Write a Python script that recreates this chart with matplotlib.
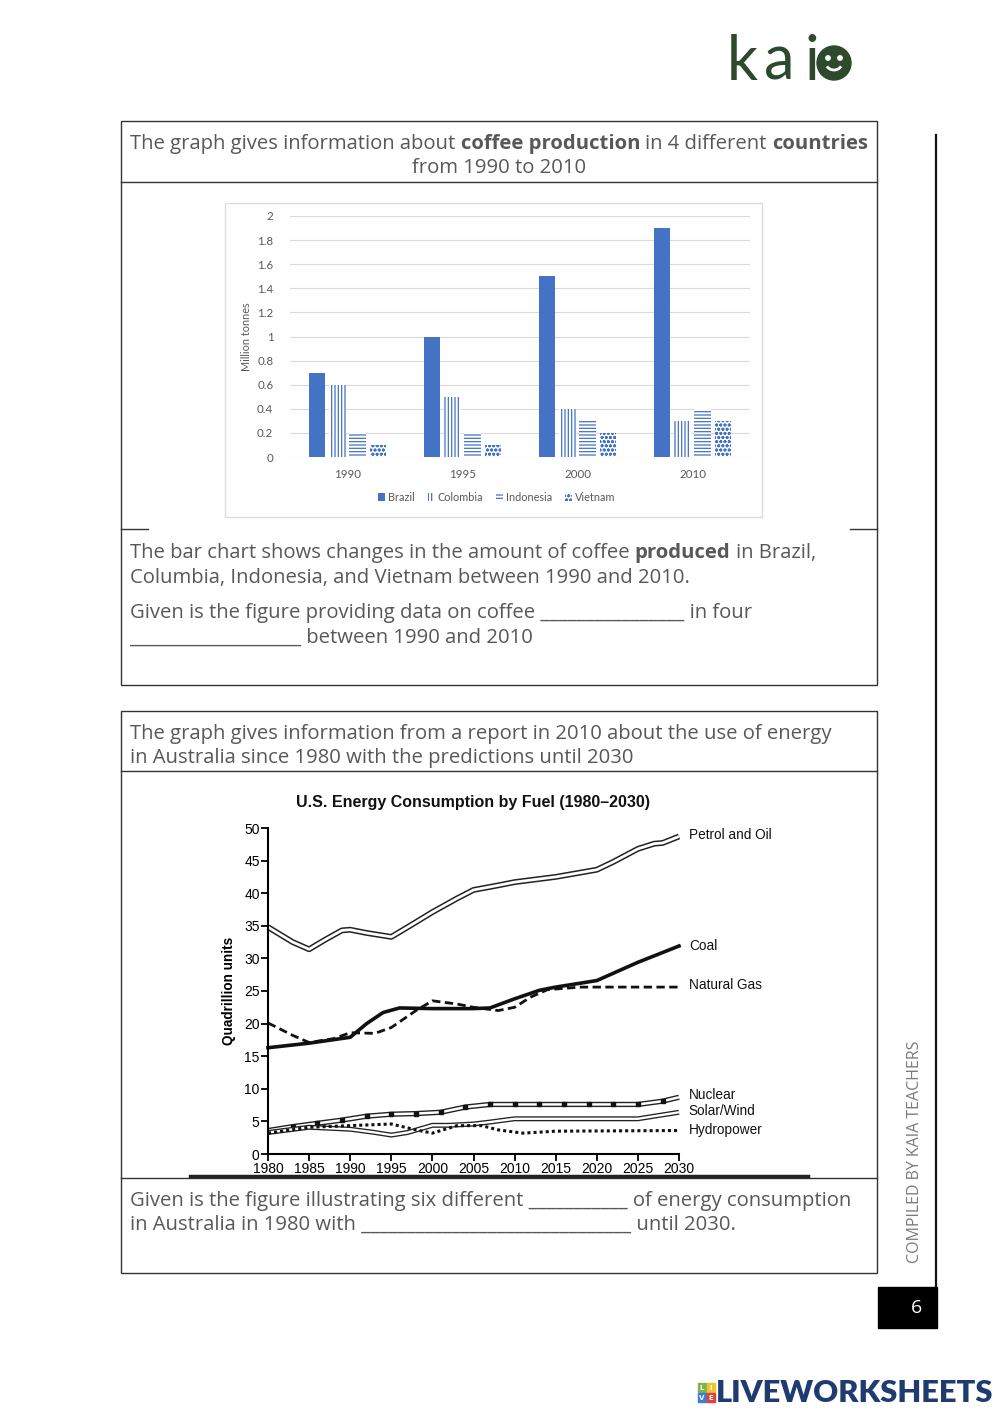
import matplotlib
matplotlib.use('Agg')
import matplotlib.pyplot as plt
from matplotlib.patches import Rectangle, Circle, Arc, Patch
import numpy as np

# ---- data: coffee bar chart
bar_years = ['1990', '1995', '2000', '2010']
brazil = [0.7, 1.0, 1.5, 1.9]
colombia = [0.6, 0.5, 0.4, 0.3]
indonesia = [0.2, 0.2, 0.3, 0.4]
vietnam = [0.1, 0.1, 0.2, 0.3]
bar_ticks = [0, 0.2, 0.4, 0.6, 0.8, 1, 1.2, 1.4, 1.6, 1.8, 2]
bar_ticklabels = ['0', '0.2', '0.4', '0.6', '0.8', '1', '1.2', '1.4', '1.6', '1.8', '2']

# ---- data: energy line chart
petrol_x = [1980, 1983, 1985, 1987, 1989, 1990, 1992, 1995, 1997, 2000, 2003, 2005, 2008, 2010, 2015, 2020, 2022, 2025, 2027, 2028, 2030]
petrol_y = [34.8, 32.5, 31.4, 32.9, 34.3, 34.4, 33.9, 33.3, 34.8, 37.1, 39.2, 40.5, 41.2, 41.7, 42.5, 43.6, 44.8, 46.8, 47.6, 47.7, 48.7]
coal_x = [1980, 1985, 1990, 1992, 1994, 1996, 2000, 2005, 2007, 2010, 2013, 2015, 2020, 2025, 2030]
coal_y = [16.3, 17.0, 17.9, 20.0, 21.7, 22.4, 22.3, 22.3, 22.4, 23.8, 25.1, 25.6, 26.6, 29.4, 31.9]
gas_x = [1980, 1983, 1985, 1988, 1990, 1993, 1995, 1998, 2000, 2003, 2005, 2008, 2010, 2012, 2014, 2018, 2030]
gas_y = [20.1, 18.2, 17.1, 17.7, 18.6, 18.5, 19.4, 22.0, 23.5, 23.0, 22.5, 22.0, 22.5, 24.1, 25.2, 25.6, 25.6]
nuclear_x = [1980, 1983, 1986, 1989, 1992, 1995, 1998, 2001, 2004, 2007, 2010, 2013, 2016, 2019, 2022, 2025, 2028, 2030]
nuclear_y = [3.6, 4.2, 4.7, 5.2, 5.8, 6.1, 6.2, 6.4, 7.2, 7.6, 7.6, 7.6, 7.6, 7.6, 7.6, 7.6, 8.1, 8.7]
solar_x = [1980, 1985, 1990, 1993, 1995, 1997, 2000, 2002, 2005, 2007, 2010, 2025, 2030]
solar_y = [3.3, 4.1, 3.8, 3.3, 2.9, 3.3, 4.4, 4.4, 4.6, 4.9, 5.4, 5.4, 6.4]
hydro_x = [1980, 1985, 1990, 1995, 1998, 2000, 2003, 2006, 2008, 2011, 2015, 2030]
hydro_y = [3.2, 4.1, 4.35, 4.6, 3.7, 3.2, 4.35, 4.35, 3.7, 3.2, 3.5, 3.6]
line_labels = ['Petrol and Oil', 'Coal', 'Natural Gas', 'Nuclear', 'Solar/Wind', 'Hydropower']
label_y = [48.9, 31.9, 25.9, 9.0, 6.6, 3.7]

W, H = 1000, 1413
GRAY = '#585858'
TXT = ['Open Sans', 'DejaVu Sans']
LAT = ['Lato', 'DejaVu Sans']

fig = plt.figure(figsize=(10, 14.13), dpi=100)
bg = fig.add_axes([0, 0, 1, 1])
bg.set_xlim(0, W)
bg.set_ylim(H, 0)
bg.axis('off')


def rect(x0, y0, x1, y1):
    return [x0 / W, 1 - y1 / H, (x1 - x0) / W, (y1 - y0) / H]


renderer = fig.canvas.get_renderer()


def width_of(s, bold, size):
    t = bg.text(0, 0, s, fontsize=size, family=TXT, fontweight='bold' if bold else 'normal')
    w = t.get_window_extent(renderer).width
    t.remove()
    return w


def rich(x, y, parts, size=14.6, ha='left'):
    sp = width_of('x x', False, size) - width_of('xx', False, size)
    ws = [width_of(s, b, size) for s, b in parts]
    total = sum(ws) + sp * (len(parts) - 1)
    if ha == 'center':
        x = x - total / 2
    for (s, b), w in zip(parts, ws):
        bg.text(x, y, s, fontsize=size, family=TXT, va='center',
                fontweight='bold' if b else 'normal', color=GRAY)
        x += w + sp


# ---- boxes
for (x0, y0, x1, y1) in [(121, 121, 877, 685), (121, 711, 877, 1273)]:
    bg.add_patch(Rectangle((x0, y0), x1 - x0, y1 - y0, fill=False, ec='#333333', lw=1))
bg.plot([121, 877], [182, 182], color='#333333', lw=1)
bg.plot([121, 148], [529, 529], color='#333333', lw=1)
bg.plot([850, 877], [529, 529], color='#333333', lw=1)
bg.plot([121, 877], [771, 771], color='#333333', lw=1)
bg.plot([121, 877], [1178, 1178], color='#333333', lw=1)
bg.plot([190, 808], [1176, 1176], color='#222222', lw=2.5)
bg.add_patch(Rectangle((225, 203), 537, 314, fill=False, ec='#dcdcdc', lw=1))

# ---- texts in boxes
rich(499, 144, [('The graph gives information about', 0), ('coffee production', 1),
                ('in 4 different', 0), ('countries', 1)], ha='center')
rich(499, 168, [('from 1990 to 2010', 0)], ha='center')
rich(130, 553, [('The bar chart shows changes in the amount of coffee', 0), ('produced', 1), ('in Brazil,', 0)])
rich(130, 578, [('Columbia, Indonesia, and Vietnam between 1990 and 2010.', 0)])
rich(130, 613, [('Given is the figure providing data on coffee ________________ in four', 0)])
rich(130, 638, [('___________________ between 1990 and 2010', 0)])
rich(130, 734, [('The graph gives information from a report in 2010 about the use of energy', 0)])
rich(130, 758, [('in Australia since 1980 with the predictions until 2030', 0)])
rich(130, 1201, [('Given is the figure illustrating six different ___________ of energy consumption', 0)])
rich(130, 1225, [('in Australia in 1980 with ______________________________ until 2030.', 0)])

# ---- bar chart
ax1 = fig.add_axes(rect(290, 216, 750, 457))
xpos = np.arange(len(bar_years))
pitch, bw = 0.177, 0.143
blue = '#4472c4'
plt.rcParams['hatch.linewidth'] = 0.9
ax1.bar(xpos - 1.5 * pitch, brazil, bw, color=blue, zorder=3)
ax1.bar(xpos - 0.5 * pitch, colombia, bw, facecolor='white', edgecolor=blue, lw=0, hatch='|||||', zorder=3)
ax1.bar(xpos + 0.5 * pitch, indonesia, bw, facecolor='white', edgecolor=blue, lw=0, hatch='-----', zorder=3)
ax1.bar(xpos + 1.5 * pitch, vietnam, bw, facecolor='white', edgecolor=blue, lw=0, hatch='oooo', zorder=3)
ax1.set_xlim(-0.5, 3.5)
ax1.set_ylim(0, 2)
ax1.set_yticks(bar_ticks)
ax1.set_yticklabels(bar_ticklabels)
ax1.set_xticks(xpos)
ax1.set_xticklabels(bar_years)
ax1.grid(axis='y', color='#d9d9d9', lw=0.8, zorder=0)
for s in ax1.spines.values():
    s.set_visible(False)
ax1.tick_params(length=0, labelsize=8.3, labelcolor=GRAY, pad=12)
ax1.tick_params(axis='x', pad=9)
for lab in ax1.get_xticklabels() + ax1.get_yticklabels():
    lab.set_family(LAT)
ax1.set_ylabel('Million tonnes', fontsize=7.8, color=GRAY, family=LAT, labelpad=4)
handles = [Patch(facecolor=blue, label='Brazil'),
           Patch(facecolor='white', edgecolor=blue, lw=0, hatch='|||||', label='Colombia'),
           Patch(facecolor='white', edgecolor=blue, lw=0, hatch='-----', label='Indonesia'),
           Patch(facecolor='white', edgecolor=blue, lw=0, hatch='oooo', label='Vietnam')]
leg = ax1.legend(handles=handles, loc='center', bbox_to_anchor=(0.45, -0.166), ncol=4, frameon=False,
                 handlelength=0.6, handleheight=0.8, handletextpad=0.3, columnspacing=1.2,
                 prop={'family': LAT, 'size': 7.8})
for t in leg.get_texts():
    t.set_color(GRAY)

# ---- line chart
CH = ['Liberation Sans', 'DejaVu Sans']
ax2 = fig.add_axes(rect(268, 828, 679, 1154))
ax2.plot(petrol_x, petrol_y, color='#222222', lw=4.2, clip_on=False, solid_capstyle='butt')
ax2.plot(petrol_x, petrol_y, color='white', lw=2.0, clip_on=False, solid_capstyle='butt')
ax2.plot(coal_x, coal_y, color='#111111', lw=2.6, clip_on=False)
ax2.plot(gas_x, gas_y, color='#111111', lw=2.0, dashes=(3, 1.6), clip_on=False)
ax2.plot(nuclear_x, nuclear_y, color='#222222', lw=3.8, clip_on=False, solid_capstyle='butt')
ax2.plot(nuclear_x, nuclear_y, color='white', lw=1.8, clip_on=False, solid_capstyle='butt',
         marker='s', markersize=3.2, markerfacecolor='#111111', markeredgecolor='#111111',
         markevery=slice(1, -1))
ax2.plot(solar_x, solar_y, color='#222222', lw=3.6, clip_on=False, solid_capstyle='butt')
ax2.plot(solar_x, solar_y, color='white', lw=1.7, clip_on=False, solid_capstyle='butt')
ax2.plot(hydro_x, hydro_y, color='#111111', lw=2.2, dashes=(1, 1), clip_on=False)
for lab, yy in zip(line_labels, label_y):
    ax2.text(2031.2, yy, lab, fontsize=9.8, family=CH, va='center', color='#111111')
ax2.set_xlim(1980, 2030)
ax2.set_ylim(0, 50)
ax2.set_xticks(range(1980, 2031, 5))
ax2.set_yticks(range(0, 51, 5))
ax2.spines['top'].set_visible(False)
ax2.spines['right'].set_visible(False)
ax2.spines['left'].set_linewidth(1.5)
ax2.spines['bottom'].set_linewidth(1.5)
ax2.tick_params(direction='out', length=5, width=1.3, labelsize=10, pad=1)
for lab in ax2.get_xticklabels() + ax2.get_yticklabels():
    lab.set_family(CH)
ax2.set_ylabel('Quadrillion units', fontsize=9.8, fontweight='bold', family=CH, labelpad=6)
bg.text(473, 802, 'U.S. Energy Consumption by Fuel (1980\u20132030)', fontsize=11.5, fontweight='bold',
        family=CH, ha='center', va='center', color='#111111')

# ---- header logo
green = '#2d4a2d'
for ch, x in [('k', 727), ('a', 764), ('i', 804)]:
    bg.text(x, 80, ch, fontsize=44, family=LAT, color=green, va='baseline')
bg.add_patch(Circle((834, 63), 17, color=green))
bg.add_patch(Circle((828, 58), 2.2, color='white'))
bg.add_patch(Circle((840, 58), 2.2, color='white'))
bg.add_patch(Arc((834, 63), 16, 14, theta1=25, theta2=155, color='white', lw=2))

# ---- right margin
bg.plot([936, 936], [135, 1287], color='#111111', lw=1.6)
bg.add_patch(Rectangle((878, 1287), 59, 41, color='black'))
bg.text(916, 1308, '6', fontsize=14, color='white', ha='center', va='center', family=TXT)
bg.text(915, 1152, 'COMPILED BY KAIA TEACHERS', fontsize=11.5, color='#7a7a7a', rotation=90,
        ha='center', va='center', family=TXT)

# ---- footer
sq = [('L', '#7ab648', 698, 1383), ('I', '#f2c12e', 707, 1383),
      ('V', '#3b7dd8', 698, 1393), ('E', '#e0413a', 707, 1393)]
for ch, c, x, y in sq:
    bg.add_patch(Rectangle((x, y), 8, 9, color=c))
    bg.text(x + 4, y + 4.8, ch, fontsize=5, color='white', ha='center', va='center', fontweight='bold')
bg.text(716, 1393, 'LIVEWORKSHEETS', fontsize=22.2, fontweight='heavy', color='#1f3b6f',
        va='center', family=LAT)

fig.savefig('out.png', dpi=100)
